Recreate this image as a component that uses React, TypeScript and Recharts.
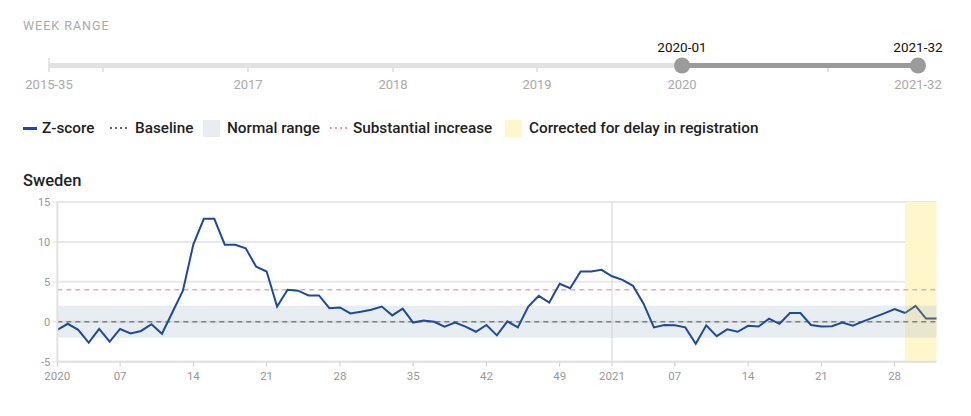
import React from "react";
import {
  LineChart,
  Line,
  XAxis,
  YAxis,
  CartesianGrid,
  ReferenceArea,
  ReferenceLine,
} from "recharts";

// weekly z-scores, Sweden
const z2020 = [
  -1.0, -0.25, -1.0, -2.6, -0.9, -2.5, -0.9, -1.45, -1.15, -0.3, -1.5, 1.2,
  3.9, 9.7, 12.9, 12.9, 9.65, 9.65, 9.2, 6.9, 6.3, 1.9, 4.0, 3.9, 3.3, 3.3,
  1.7, 1.8, 1.05, 1.25, 1.5, 1.9, 0.8, 1.65, -0.1, 0.15, 0.0, -0.6, -0.1,
  -0.6, -1.25, -0.4, -1.7, 0.05, -0.7, 1.9, 3.25, 2.4, 4.75, 4.2, 6.3, 6.3,
  6.5,
];
const z2021 = [
  5.7, 5.25, 4.5, 2.3, -0.7, -0.4, -0.45, -0.7, -2.75, -0.45, -1.8, -0.95,
  -1.25, -0.5, -0.6, 0.4, -0.25, 1.1, 1.1, -0.4, -0.6, -0.55, -0.1, -0.5,
  0.05, 0.55, 1.05, 1.6, 1.1, 2.0, 0.4, 0.4,
];
const correctedFrom = 81; // 2021-29 onwards corrected for delay

const xTicks = [0, 6, 13, 20, 27, 34, 41, 48, 53, 59, 66, 73, 80];
const xTickLabels = ["2020", "07", "14", "21", "28", "35", "42", "49", "2021", "07", "14", "21", "28"];
const yTicks = [-5, 0, 5, 10, 15];

const baseline = 0;
const normalLow = -2;
const normalHigh = 2;
const substantial = 4;

// week range slider
const sliderTicks = [49, 103, 248, 393, 537, 682, 828];
const sliderLabels = [
  { x: 49, text: "2015-35" },
  { x: 248, text: "2017" },
  { x: 393, text: "2018" },
  { x: 537, text: "2019" },
  { x: 682, text: "2020" },
  { x: 918, text: "2021-32" },
];
const rangeStart = { x: 682, text: "2020-01" };
const rangeEnd = { x: 918, text: "2021-32" };

const allZ = [...z2020, ...z2021];
const data = allZ.map((v, i) => ({
  i,
  z: i <= correctedFrom ? v : null,
  zc: i >= correctedFrom ? v : null,
}));

const BLUE = "#1f4a9a";
const FONT = "Roboto, 'Noto Sans', sans-serif";

const legendText: React.CSSProperties = {
  position: "absolute",
  top: 118,
  fontSize: 15.3,
  fontWeight: 500,
  color: "#222",
  lineHeight: "20px",
  whiteSpace: "nowrap",
};

const Dots = ({ left, color }: { left: number; color: string }) => (
  <svg width={20} height={4} style={{ position: "absolute", left, top: 126 }}>
    <line x1={1} x2={20} y1={2} y2={2} stroke={color} strokeWidth={2} strokeDasharray="2 3" />
  </svg>
);

export default function App() {
  return (
    <div
      style={{
        position: "absolute",
        left: 0,
        top: 0,
        width: 971,
        height: 416,
        background: "#fff",
        fontFamily: FONT,
        overflow: "hidden",
      }}
    >
      <div
        style={{
          position: "absolute",
          left: 23,
          top: 19,
          fontSize: 12.5,
          letterSpacing: 1,
          color: "#aaa",
          lineHeight: "14px",
        }}
      >
        WEEK RANGE
      </div>

      <svg
        width={971}
        height={100}
        style={{ position: "absolute", left: 0, top: 0 }}
        fontFamily={FONT}
      >
        <line x1={49} x2={918} y1={65.5} y2={65.5} stroke="#e2e2e2" strokeWidth={5} />
        {sliderTicks.map((x, k) => (
          <line
            key={x}
            x1={x}
            x2={x}
            y1={k === 0 ? 58 : 67}
            y2={72}
            stroke="#dcdcdc"
            strokeWidth={1.5}
          />
        ))}
        <line x1={rangeStart.x} x2={rangeEnd.x} y1={65.5} y2={65.5} stroke="#9b9b9b" strokeWidth={5} />
        <circle cx={rangeStart.x} cy={65.5} r={8} fill="#9b9b9b" />
        <circle cx={rangeEnd.x} cy={65.5} r={8} fill="#9b9b9b" />
        {[rangeStart, rangeEnd].map((l) => (
          <text key={l.text + "t"} x={l.x} y={52} textAnchor="middle" fontSize={13.5} fontWeight={400} fill="#111">
            {l.text}
          </text>
        ))}
        {sliderLabels.map((l) => (
          <text key={l.text + "b"} x={l.x} y={89} textAnchor="middle" fontSize={13} fill="#aaa">
            {l.text}
          </text>
        ))}
      </svg>

      {/* legend */}
      <div style={{ position: "absolute", left: 23, top: 126.5, width: 14, height: 3, background: BLUE }} />
      <div style={{ ...legendText, left: 42 }}>Z-score</div>
      <Dots left={109} color="#666" />
      <div style={{ ...legendText, left: 135 }}>Baseline</div>
      <div style={{ position: "absolute", left: 203, top: 120, width: 17, height: 17, background: "#e8edf2" }} />
      <div style={{ ...legendText, left: 227 }}>Normal range</div>
      <Dots left={329} color="#ef9a9a" />
      <div style={{ ...legendText, left: 353 }}>Substantial increase</div>
      <div style={{ position: "absolute", left: 505, top: 120, width: 17, height: 17, background: "#fff6cc" }} />
      <div style={{ ...legendText, left: 529 }}>Corrected for delay in registration</div>

      <div
        style={{
          position: "absolute",
          left: 23,
          top: 170,
          fontSize: 16.5,
          fontWeight: 500,
          color: "#222",
          lineHeight: "22px",
        }}
      >
        Sweden
      </div>

      <div style={{ position: "absolute", left: 0, top: 190 }}>
        <LineChart
          width={971}
          height={200}
          data={data}
          margin={{ top: 12, right: 34.5, left: 0, bottom: 0 }}
        >
          <ReferenceArea
            x1={correctedFrom}
            x2={allZ.length - 1}
            fill="#fff6cc"
            fillOpacity={1}
            stroke="none"
          />
          <CartesianGrid vertical={false} stroke="#e8e8e8" strokeWidth={2} />
          <ReferenceArea
            y1={normalLow}
            y2={normalHigh}
            fill="#aebdcc"
            fillOpacity={0.28}
            stroke="none"
          />
          <ReferenceLine x={53} stroke="#d4d4d4" strokeWidth={1} />
          <XAxis
            type="number"
            dataKey="i"
            domain={[0, allZ.length - 1]}
            ticks={xTicks}
            tickFormatter={(v: number) => xTickLabels[xTicks.indexOf(v)] ?? ""}
            height={28.3}
            axisLine={{ stroke: "#e2e2e2", strokeWidth: 2 }}
            tickLine={{ stroke: "#cfcfcf" }}
            tickSize={5}
            tickMargin={5}
            tick={{ fill: "#999", fontSize: 11.5 }}
            interval={0}
          />
          <YAxis
            domain={[-5, 15]}
            ticks={yTicks}
            width={57.3}
            axisLine={{ stroke: "#e2e2e2", strokeWidth: 2 }}
            tickLine={{ stroke: "#e2e2e2" }}
            tickSize={5}
            tick={{ fill: "#999", fontSize: 11 }}
            interval={0}
          />
          <ReferenceLine y={substantial} stroke="#f2a7a7" strokeWidth={1.5} strokeDasharray="5 4" />
          <ReferenceLine y={baseline} stroke="#808080" strokeWidth={1.5} strokeDasharray="5 4" />
          <Line
            dataKey="z"
            stroke={BLUE}
            strokeWidth={2}
            dot={false}
            isAnimationActive={false}
            connectNulls={false}
          />
          <Line
            dataKey="zc"
            stroke="#4e6279"
            strokeWidth={2}
            dot={false}
            isAnimationActive={false}
            connectNulls={false}
          />
        </LineChart>
      </div>
    </div>
  );
}
